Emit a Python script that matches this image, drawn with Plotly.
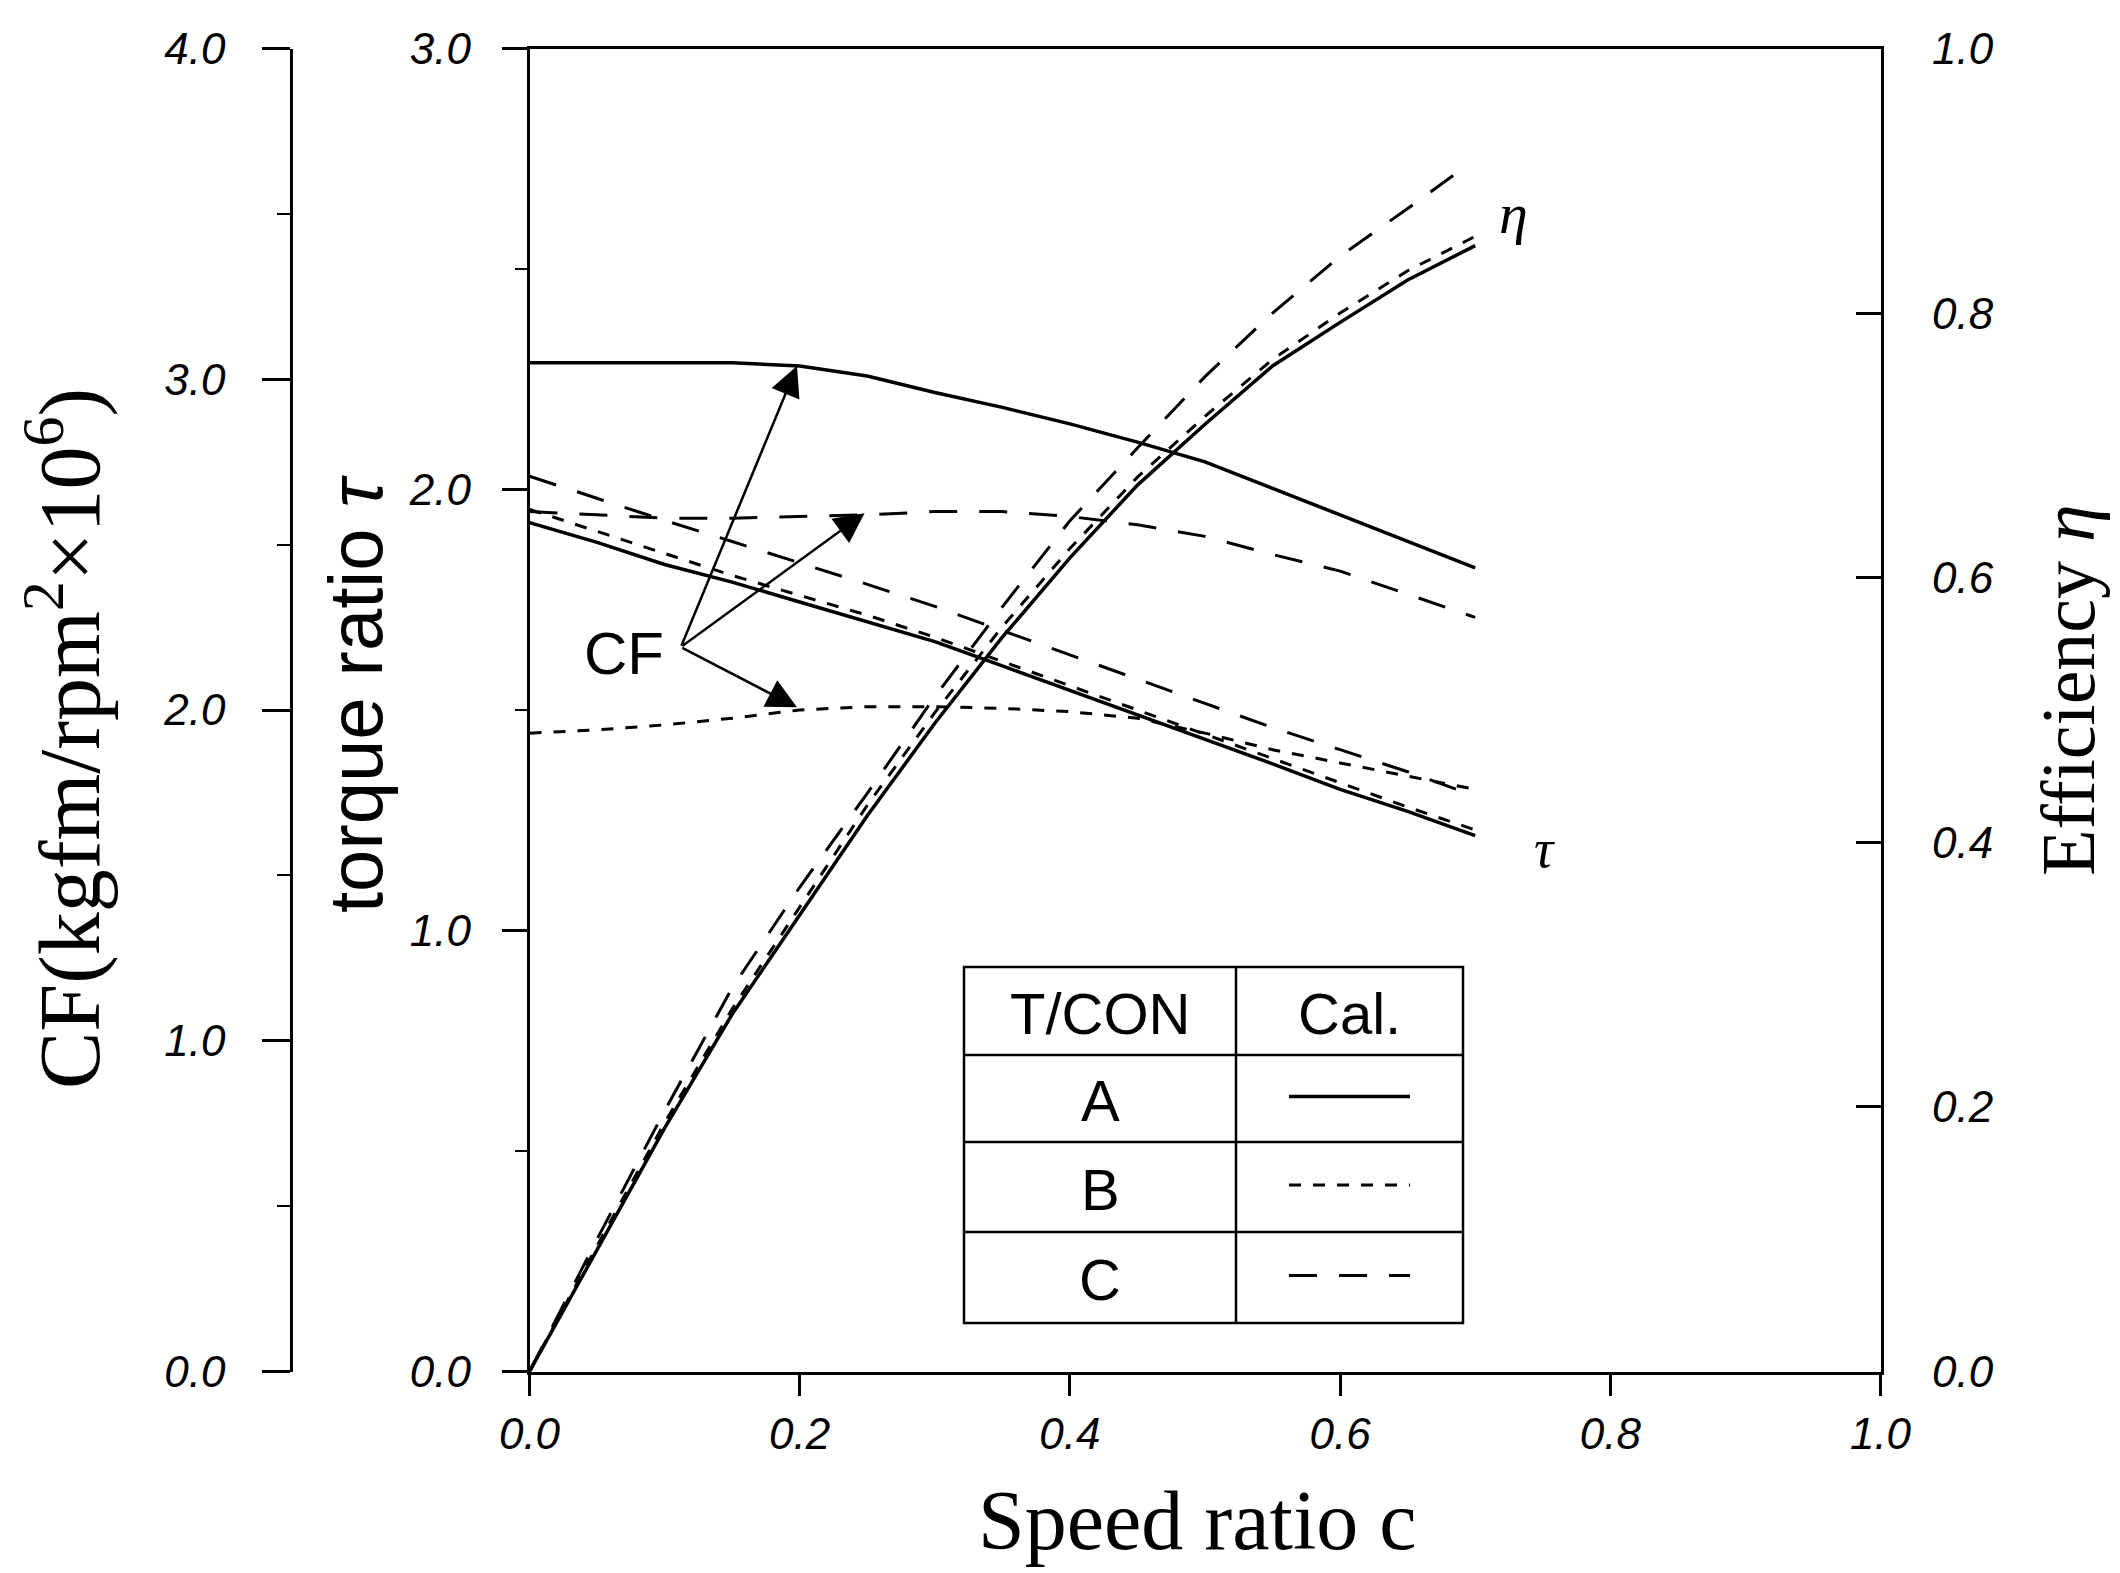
import plotly.graph_objects as go

# ---------------- data ----------------
speed_ratio = [0, 0.05, 0.1, 0.15, 0.2, 0.25, 0.3, 0.35, 0.4, 0.45, 0.5, 0.55, 0.6, 0.65, 0.7]
speed_ratio_eta_c = [0, 0.05, 0.1, 0.15, 0.2, 0.25, 0.3, 0.35, 0.4, 0.45, 0.5, 0.55, 0.6, 0.65, 0.685]

torque_A = [1.925, 1.88, 1.83, 1.79, 1.745, 1.70, 1.655, 1.60, 1.545, 1.49, 1.435, 1.378, 1.32, 1.27, 1.215]
torque_B = [1.955, 1.905, 1.855, 1.805, 1.76, 1.715, 1.665, 1.61, 1.555, 1.50, 1.445, 1.39, 1.335, 1.28, 1.228]
torque_C = [2.03, 1.98, 1.93, 1.882, 1.834, 1.785, 1.735, 1.68, 1.625, 1.57, 1.515, 1.46, 1.41, 1.36, 1.305]

cf_A = [3.05, 3.05, 3.05, 3.05, 3.04, 3.01, 2.96, 2.915, 2.865, 2.81, 2.75, 2.67, 2.59, 2.51, 2.43]
cf_B = [1.93, 1.94, 1.955, 1.975, 2.0, 2.01, 2.01, 2.005, 1.995, 1.975, 1.93, 1.88, 1.84, 1.80, 1.76]
cf_C = [2.60, 2.59, 2.58, 2.58, 2.585, 2.59, 2.60, 2.60, 2.585, 2.56, 2.525, 2.47, 2.42, 2.35, 2.28]

eta_A = [0, 0.092, 0.184, 0.27, 0.345, 0.42, 0.49, 0.555, 0.615, 0.67, 0.716, 0.76, 0.793, 0.825, 0.851]
eta_B = [0, 0.095, 0.188, 0.274, 0.351, 0.428, 0.498, 0.563, 0.622, 0.676, 0.722, 0.765, 0.80, 0.832, 0.858]
eta_C = [0, 0.10, 0.197, 0.29, 0.366, 0.437, 0.51, 0.578, 0.643, 0.698, 0.752, 0.80, 0.843, 0.879, 0.905]

x_ticks = [0, 0.2, 0.4, 0.6, 0.8, 1.0]
x_tick_text = ["0.0", "0.2", "0.4", "0.6", "0.8", "1.0"]
torque_ticks = [0, 1, 2, 3]
torque_tick_text = ["0.0", "1.0", "2.0", "3.0"]
cf_ticks = [0, 1, 2, 3, 4]
cf_tick_text = ["0.0", "1.0", "2.0", "3.0", "4.0"]
eta_ticks = [0, 0.2, 0.4, 0.6, 0.8, 1.0]
eta_tick_text = ["0.0", "0.2", "0.4", "0.6", "0.8", "1.0"]

legend_names = ["A", "B", "C"]

# ---------------- styles ----------------
W, H = 2120, 1573
BLACK = "#000000"
SERIF = "Liberation Serif, Times New Roman, serif"
SANS = "Liberation Sans, Arial, sans-serif"
dash_of = {"A": "solid", "B": "12px,12px", "C": "28px,22px"}
width_of = {"A": 3.5, "B": 3, "C": 3}

def px(x):
    return x / W

def py(y):
    return 1 - y / H

XDOM = [px(529.5), px(1880.5)]
YDOM = [py(1371.5), py(48.5)]

fig = go.Figure()

series = [
    ("A", torque_A, cf_A, eta_A, speed_ratio),
    ("B", torque_B, cf_B, eta_B, speed_ratio),
    ("C", torque_C, cf_C, eta_C, speed_ratio_eta_c),
]
for name, tq, cf, eta, ceta in series:
    line = dict(color=BLACK, width=width_of[name], dash=dash_of[name])
    fig.add_trace(go.Scatter(x=speed_ratio, y=tq, mode="lines", line=line,
                             yaxis="y", name=f"torque {name}", showlegend=False))
    fig.add_trace(go.Scatter(x=speed_ratio, y=cf, mode="lines", line=line,
                             yaxis="y2", name=f"CF {name}", showlegend=False))
    fig.add_trace(go.Scatter(x=ceta, y=eta, mode="lines", line=line,
                             yaxis="y3", name=f"eta {name}", showlegend=False))

tickfont = dict(family=SANS, size=44, color=BLACK, style="italic")

fig.update_layout(
    width=W, height=H,
    autosize=False,
    margin=dict(l=0, r=0, t=0, b=0, pad=0, autoexpand=False),
    paper_bgcolor="white", plot_bgcolor="white",
    showlegend=False,
    xaxis=dict(domain=XDOM, range=[0, 1], tickvals=x_ticks, ticktext=x_tick_text,
               ticks="outside", ticklen=22, tickwidth=2.5, tickcolor=BLACK,
               showline=True, linewidth=2.5, linecolor=BLACK, mirror=True,
               showgrid=False, zeroline=False, tickfont=tickfont,
               ticklabelstandoff=0, automargin=False),
    yaxis=dict(domain=YDOM, range=[0, 3], tickvals=torque_ticks, ticktext=torque_tick_text,
               ticks="outside", ticklen=25, tickwidth=2.5, tickcolor=BLACK,
               minor=dict(dtick=0.5, ticks="outside", ticklen=12, tickwidth=2, tickcolor=BLACK),
               showline=True, linewidth=2.5, linecolor=BLACK, anchor="x", side="left",
               showgrid=False, zeroline=False, tickfont=tickfont, ticklabelstandoff=22,
               automargin=False),
    yaxis2=dict(domain=YDOM, range=[0, 4], tickvals=cf_ticks, ticktext=cf_tick_text,
                overlaying="y", anchor="free", position=px(291), side="left",
                ticks="outside", ticklen=28, tickwidth=2.5, tickcolor=BLACK,
                minor=dict(dtick=0.5, ticks="outside", ticklen=13, tickwidth=2, tickcolor=BLACK),
                showline=True, linewidth=2.5, linecolor=BLACK,
                showgrid=False, zeroline=False, tickfont=tickfont, ticklabelstandoff=28,
                automargin=False),
    yaxis3=dict(domain=YDOM, range=[0, 1], tickvals=eta_ticks, ticktext=eta_tick_text,
                overlaying="y", anchor="x", side="right",
                ticks="inside", ticklen=25, tickwidth=2.5, tickcolor=BLACK,
                showline=True, linewidth=2.5, linecolor=BLACK,
                showgrid=False, zeroline=False, tickfont=tickfont, ticklabelstandoff=40,
                automargin=False),
)

ann = []

def text_ann(text, x, y, font, xref="paper", yref="paper", angle=0):
    return dict(text=text, xref=xref, yref=yref, x=x, y=y, showarrow=False,
                textangle=angle, xanchor="center", yanchor="middle", font=font)

# axis titles
ann.append(text_ann("CF(kgfm/rpm<sup>2</sup>×10<sup>6</sup>)", px(63), py(739),
                    dict(family=SERIF, size=86, color=BLACK), angle=-90))
ann.append(text_ann("torque ratio <i>τ</i>", px(355), py(694),
                    dict(family=SANS, size=76, color=BLACK), angle=-90))
ann.append(text_ann("Efficiency <i>η</i>", px(2068), py(690),
                    dict(family=SERIF, size=76, color=BLACK), angle=-90))
ann.append(text_ann("Speed ratio c", px(1197), py(1520),
                    dict(family=SERIF, size=84, color=BLACK)))

# curve labels
ann.append(text_ann("<i>η</i>", 0.728, 0.875, dict(family=SERIF, size=58, color=BLACK),
                    xref="x", yref="y3"))
ann.append(text_ann("<i>τ</i>", 0.751, 1.185, dict(family=SERIF, size=54, color=BLACK),
                    xref="x", yref="y"))

# CF label + arrows
ann.append(text_ann("CF", 0.070, 2.17, dict(family=SANS, size=60, color=BLACK),
                    xref="x", yref="y2"))
tail = (0.112, 2.19)
for tip in [(0.198, 3.04), (0.248, 2.595), (0.198, 2.008)]:
    ann.append(dict(text="", xref="x", yref="y2", x=tip[0], y=tip[1],
                    axref="x", ayref="y2", ax=tail[0], ay=tail[1],
                    showarrow=True, arrowhead=2, arrowsize=2.4, arrowwidth=2.5,
                    arrowcolor=BLACK, standoff=0, startstandoff=0))

# legend table
TX0, TX1 = 964, 1463
TXM = 1236
TY = [967, 1055, 1142, 1232, 1323]
shapes = []
lw = 2.5
shapes.append(dict(type="rect", xref="paper", yref="paper", x0=px(TX0), x1=px(TX1),
                   y0=py(TY[-1]), y1=py(TY[0]), line=dict(color=BLACK, width=lw),
                   fillcolor="white", layer="above"))
shapes.append(dict(type="line", xref="paper", yref="paper", x0=px(TXM), x1=px(TXM),
                   y0=py(TY[-1]), y1=py(TY[0]), line=dict(color=BLACK, width=lw), layer="above"))
for yy in TY[1:-1]:
    shapes.append(dict(type="line", xref="paper", yref="paper", x0=px(TX0), x1=px(TX1),
                       y0=py(yy), y1=py(yy), line=dict(color=BLACK, width=lw), layer="above"))
cell_font = dict(family=SANS, size=58, color=BLACK)
ann.append(text_ann("T/CON", px((TX0 + TXM) / 2), py((TY[0] + TY[1]) / 2 + 2), cell_font))
ann.append(text_ann("Cal.", px((TXM + TX1) / 2), py((TY[0] + TY[1]) / 2 + 2), cell_font))
for i, name in enumerate(legend_names):
    ym = (TY[i + 1] + TY[i + 2]) / 2
    ann.append(text_ann(name, px((TX0 + TXM) / 2), py(ym + 2), cell_font))
    shapes.append(dict(type="line", xref="paper", yref="paper", x0=px(1289), x1=px(1410),
                       y0=py(ym - 2), y1=py(ym - 2),
                       line=dict(color=BLACK, width=width_of[name], dash=dash_of[name]), layer="above"))

fig.update_layout(annotations=ann, shapes=shapes)

fig.write_html("out.html")
